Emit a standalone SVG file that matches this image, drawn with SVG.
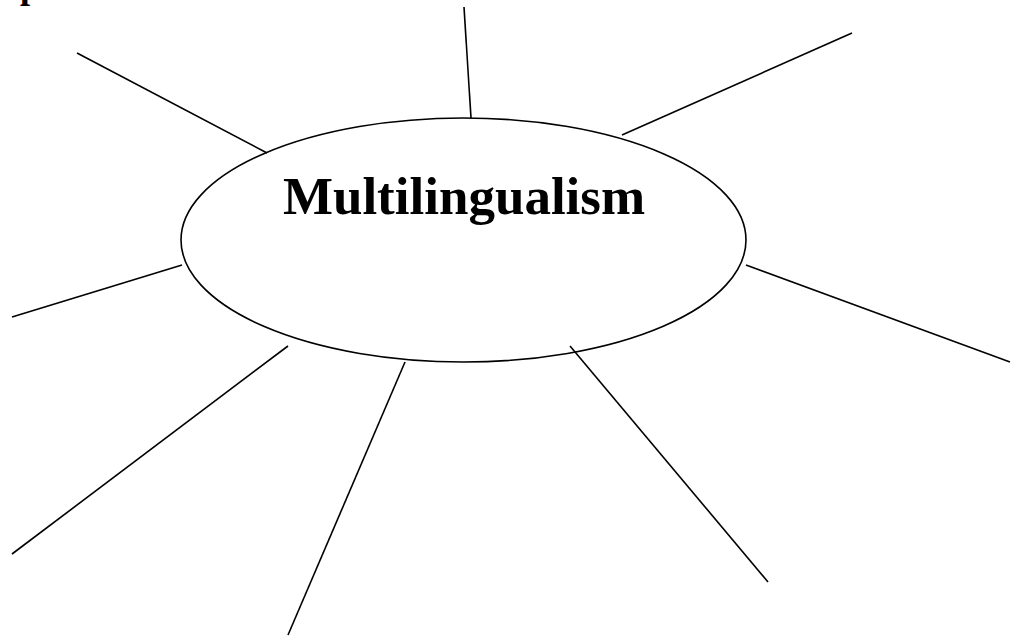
<svg xmlns="http://www.w3.org/2000/svg" width="1011" height="636" viewBox="0 0 1011 636">
<style>
.ln{stroke:#000;stroke-width:1.6;fill:none;stroke-linecap:butt}
.t{font-family:"Liberation Serif","Times New Roman",serif;font-weight:bold;fill:#000}
</style>
<rect width="1011" height="636" fill="#fff"/>
<text class="t" x="20" y="-2" font-size="36">p</text>
<g id="connectors">
<line class="ln" x1="464" y1="7" x2="471" y2="118"/>
<line class="ln" x1="77" y1="53" x2="267" y2="153"/>
<line class="ln" x1="622" y1="135" x2="852" y2="33"/>
<line class="ln" x1="12" y1="317" x2="182" y2="265"/>
<line class="ln" x1="746" y1="265" x2="1010" y2="362"/>
<line class="ln" x1="288" y1="346" x2="12" y2="554"/>
<line class="ln" x1="405" y1="362" x2="288" y2="635"/>
<line class="ln" x1="570" y1="346" x2="768" y2="582"/>
</g>
<g id="multilingualism">
<ellipse class="ln" cx="463.5" cy="240" rx="282.5" ry="122"/>
<text class="t" x="464" y="214" font-size="53" text-anchor="middle">Multilingualism</text>
</g>
</svg>
